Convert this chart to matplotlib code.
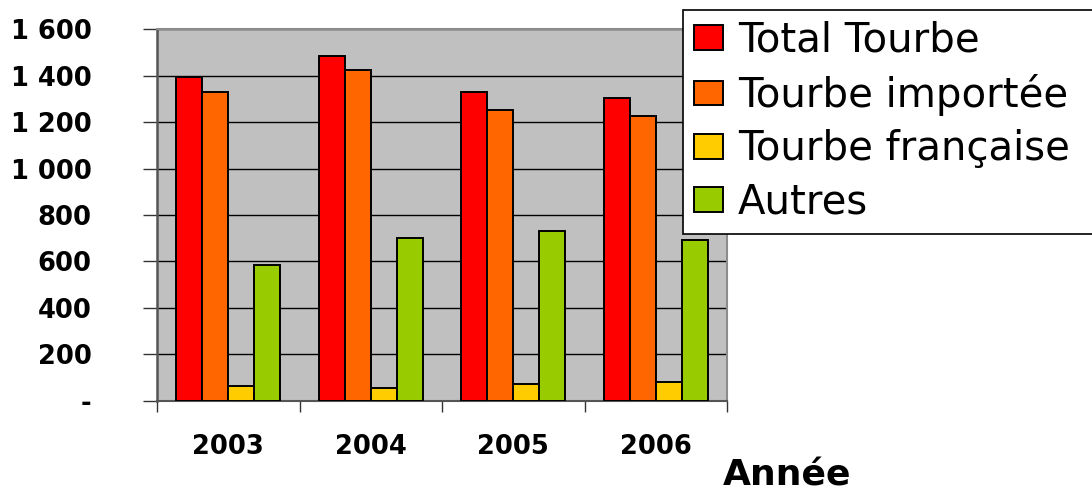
import numpy as np
import matplotlib
matplotlib.use('Agg')
import matplotlib.pyplot as plt

# Données
annees = ['2003', '2004', '2005', '2006']
total_tourbe = [1393, 1486, 1329, 1305]
tourbe_importee = [1329, 1423, 1254, 1225]
tourbe_francaise = [65, 56, 72, 79]
autres = [583, 700, 730, 694]

series = [
    ('Total Tourbe', total_tourbe, '#FF0000'),
    ('Tourbe importée', tourbe_importee, '#FF6600'),
    ('Tourbe française', tourbe_francaise, '#FFCC00'),
    ('Autres', autres, '#99CC00'),
]
yticks = [0, 200, 400, 600, 800, 1000, 1200, 1400, 1600]

plt.rcParams['font.family'] = ['DejaVu Sans']

fig = plt.figure(figsize=(10.92, 4.92), dpi=100)
ax = fig.add_axes([157 / 1092, 1 - 400.7 / 492, 570 / 1092, 371.4 / 492])
ax.set_facecolor('#C0C0C0')

x = np.arange(len(annees))
w = 0.1825
handles = []
for i, (nom, vals, couleur) in enumerate(series):
    b = ax.bar(x + (i - 1.5) * w, vals, w, color=couleur, edgecolor='black',
               linewidth=1.4, label=nom, zorder=3)
    handles.append(b)

ax.set_xlim(-0.5, 3.5)
ax.set_ylim(0, 1600)

# grille
ax.set_yticks(yticks)
ax.set_yticklabels(['-' if v == 0 else f"{v:,}".replace(',', ' ') for v in yticks],
                   fontsize=18.5, fontweight='bold')
ax.yaxis.grid(True, color='black', linewidth=1, zorder=1)
ax.set_axisbelow(True)
ax.tick_params(axis='y', direction='out', length=10, width=1, pad=37, color='#333333')

ax.set_xticks(x)
ax.set_xticklabels(annees, fontsize=18.5, fontweight='bold')
ax.set_xticks(np.arange(-0.5, 4, 1), minor=True)
ax.tick_params(axis='x', which='major', length=0, pad=24)
ax.tick_params(axis='x', which='minor', direction='out', length=8, width=1, color='#333333')

for s in ['top', 'right']:
    ax.spines[s].set_color('#8C8C8C')
    ax.spines[s].set_linewidth(1.5)
ax.spines['left'].set_color('#555555')
ax.spines['left'].set_linewidth(1.8)
ax.spines['bottom'].set_color('#555555')
ax.spines['bottom'].set_linewidth(1.5)

fig.text(787 / 1092, 1 - 476 / 492, 'Année', fontsize=26, fontweight='bold',
         ha='center', va='center')

# légende qui déborde à droite de l'image, comme dans l'original
leg = fig.legend(handles=handles, loc='upper left',
                 bbox_to_anchor=(683 / 1092, 1 - 10 / 492, 0.4, 0), mode='expand',
                 fontsize=29, frameon=True, fancybox=False, borderaxespad=0,
                 handlelength=0.72, handleheight=0.57, handletextpad=0.38,
                 labelspacing=0.33, borderpad=0.27)
leg.get_frame().set_edgecolor('black')
leg.get_frame().set_linewidth(1.2)
leg.get_frame().set_alpha(1)

fig.savefig('out.png', dpi=100)
